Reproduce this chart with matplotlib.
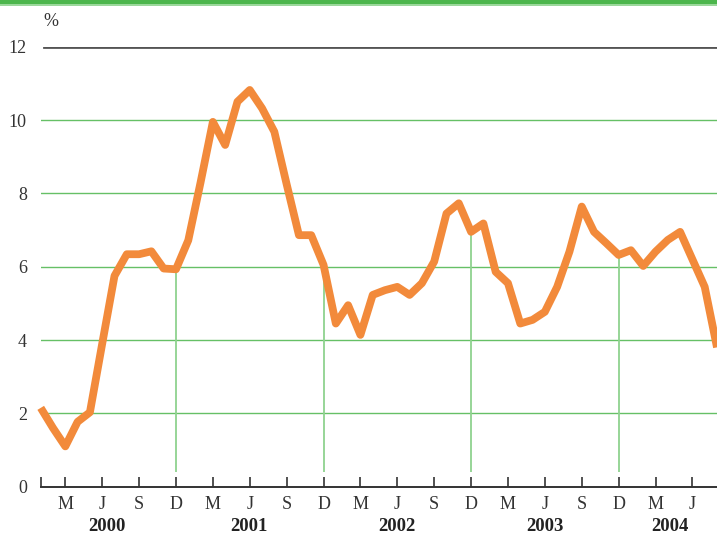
import matplotlib
matplotlib.use("Agg")
import matplotlib.pyplot as plt
from matplotlib.patches import Rectangle
from matplotlib.transforms import blended_transform_factory

# Monthly rate, January 2000 to August 2004 (%)
rate_2000 = [2.15, 1.6, 1.1, 1.77, 2.03, 3.9, 5.75, 6.34, 6.34, 6.42, 5.95, 5.93]
rate_2001 = [6.72, 8.3, 9.95, 9.32, 10.5, 10.82, 10.32, 9.68, 8.25, 6.86, 6.86, 6.05]
rate_2002 = [4.45, 4.95, 4.14, 5.23, 5.36, 5.45, 5.23, 5.55, 6.14, 7.45, 7.73, 6.95]
rate_2003 = [7.18, 5.86, 5.55, 4.45, 4.55, 4.77, 5.45, 6.41, 7.64, 6.95, 6.64, 6.32]
rate_2004 = [6.45, 6.02, 6.41, 6.73, 6.95, 6.2, 5.45, 3.8]

values = rate_2000 + rate_2001 + rate_2002 + rate_2003 + rate_2004
months = list(range(len(values)))          # 0 = Jan 2000

tick_months = [0, 2, 5, 8, 11, 14, 17, 20, 23, 26, 29, 32, 35, 38, 41, 44, 47, 50, 53]
tick_labels = ["", "M", "J", "S", "D", "M", "J", "S", "D", "M", "J", "S", "D",
               "M", "J", "S", "D", "M", "J"]
years = ["2000", "2001", "2002", "2003", "2004"]
year_pos = [5.4, 16.9, 29.0, 41.0, 51.2]
december_months = [11, 23, 35, 47]
y_ticks = [0, 2, 4, 6, 8, 10, 12]

ORANGE = "#f28a3b"
GRID = "#66c066"
VLINE = "#8fd28f"
DARK = "#333333"
SERIF = ["Liberation Serif", "DejaVu Serif"]

fig = plt.figure(figsize=(7.17, 5.34), dpi=100)
ax = fig.add_axes([0.0568, 0.08858, 0.9432, 0.82397])
ax.set_xlim(0, 55.0)
ax.set_ylim(0, 12)

# top banner
fig.patches.append(Rectangle((0, 1 - 4 / 534), 1, 4 / 534, transform=fig.transFigure,
                             facecolor="#4cb64c", edgecolor="none", zorder=5))
fig.patches.append(Rectangle((0, 1 - 5.5 / 534), 1, 1.5 / 534, transform=fig.transFigure,
                             facecolor="#9bd89b", edgecolor="none", zorder=5))

# horizontal grid
for yv in y_ticks[1:-1]:
    ax.axhline(yv, color=GRID, lw=1.0, zorder=1)
ax.axhline(12, xmin=3.3 / 676, color="#555555", lw=2.0, zorder=1)

# December markers reaching up to the curve
for m in december_months:
    ax.vlines(m, 0.41, values[m], color=VLINE, lw=1.3, zorder=1)

ax.plot(months, values, color=ORANGE, lw=5.6, solid_joinstyle="round",
        solid_capstyle="butt", zorder=3, clip_on=False)

for side in ("top", "right", "left"):
    ax.spines[side].set_visible(False)
ax.spines["bottom"].set_color(DARK)
ax.spines["bottom"].set_linewidth(1.4)

ax.set_xticks(tick_months)
ax.set_xticklabels(tick_labels, fontfamily=SERIF, fontsize=13, color=DARK)
ax.tick_params(axis="x", direction="in", length=7.5, width=1.2, color=DARK, pad=7)

ax.set_yticks(y_ticks)
ax.set_yticklabels([str(v) for v in y_ticks], fontfamily=SERIF, fontsize=13, color=DARK)
ax.tick_params(axis="y", length=0, pad=10)

trans = blended_transform_factory(ax.transData, ax.transAxes)
for yr, xp in zip(years, year_pos):
    ax.text(xp, -0.091, yr, transform=trans, ha="center", va="center",
            fontfamily=SERIF, fontsize=13.5, fontweight="bold", color="#222222")

ax.text(0.0152, 1.057, "%", transform=ax.transAxes, ha="center", va="center",
        fontfamily=SERIF, fontsize=13, color=DARK)

fig.savefig("out.png", dpi=100)
